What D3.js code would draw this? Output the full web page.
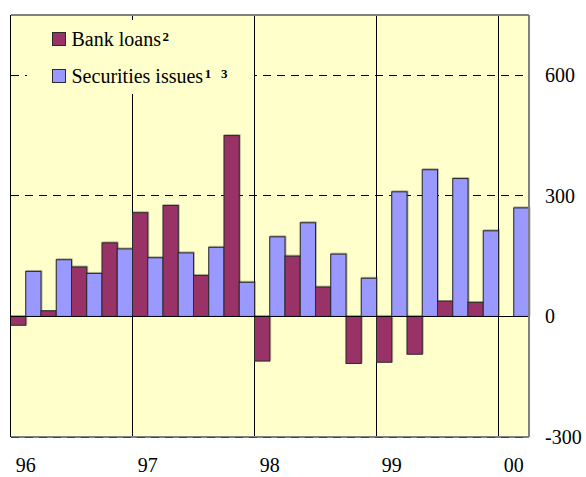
<!DOCTYPE html>
<html>
<head>
<meta charset="utf-8">
<script src="https://cdn.jsdelivr.net/npm/d3@7"></script>
<style>
  html, body { margin: 0; padding: 0; background: #ffffff; }
  svg { display: block; }
</style>
</head>
<body>
<div id="chart"></div>
<script>
// Quarterly net financing, 1996 Q1 – 2000 Q1
const quarters = [
  "96Q1", "96Q2", "96Q3", "96Q4",
  "97Q1", "97Q2", "97Q3", "97Q4",
  "98Q1", "98Q2", "98Q3", "98Q4",
  "99Q1", "99Q2", "99Q3", "99Q4",
  "00Q1"
];
const bankLoans = [-22, 14, 123, 183, 258, 276, 102, 450, -111, 150, 73, -117, -114, -94, 38, 35, null];
const securitiesIssues = [112, 141, 107, 168, 146, 158, 172, 85, 198, 233, 155, 95, 310, 365, 343, 213, 270];

const yearLabels = ["96", "97", "98", "99", "00"];
const yearStarts = ["96Q1", "97Q1", "98Q1", "99Q1", "00Q1"];
const yTicks = [-300, 0, 300, 600];
const gridTicks = [300, 600];

const seriesNames = ["Bank loans", "Securities issues"];
const seriesNotes = ["2", "1 3"];
const seriesColors = ["#993366", "#9999FF"];

const FONT = "'Liberation Serif', 'Times New Roman', Times, serif";
const W = 586, H = 477;
const plot = { left: 10.5, right: 529, top: 15, bottom: 437 };

const svg = d3.select("#chart").append("svg")
  .attr("width", W).attr("height", H)
  .style("font-family", FONT);

// soft dark halo around the bars
const defs = svg.append("defs");
defs.append("filter").attr("id", "barHalo")
  .attr("x", "-20%").attr("y", "-5%").attr("width", "140%").attr("height", "110%")
  .append("feDropShadow")
  .attr("dx", 0.6).attr("dy", -0.6).attr("stdDeviation", 0.7)
  .attr("flood-color", "#000").attr("flood-opacity", 0.45);

const x = d3.scaleBand().domain(quarters).range([plot.left, plot.right]).padding(0);
const xSub = d3.scaleBand().domain(seriesNames).range([0, x.bandwidth()]).padding(0);
const y = d3.scaleLinear().domain([-300, 750]).range([plot.bottom, plot.top]);

// plot background
svg.append("rect")
  .attr("x", plot.left).attr("y", plot.top)
  .attr("width", plot.right - plot.left).attr("height", plot.bottom - plot.top)
  .attr("fill", "#FFFFCC");

// dashed horizontal grid
svg.append("g").attr("shape-rendering", "crispEdges")
  .selectAll("line").data(gridTicks).join("line")
  .attr("x1", plot.left).attr("x2", plot.right)
  .attr("y1", d => y(d)).attr("y2", d => y(d))
  .attr("stroke", "#000").attr("stroke-width", 1)
  .attr("stroke-dasharray", "8,6");

// year separators
svg.append("g").attr("shape-rendering", "crispEdges")
  .selectAll("line").data(yearStarts.slice(1)).join("line")
  .attr("x1", d => x(d)).attr("x2", d => x(d))
  .attr("y1", plot.top).attr("y2", plot.bottom)
  .attr("stroke", "#000").attr("stroke-width", 1);

// legend backdrop hides the grid behind the key
svg.append("rect")
  .attr("x", 27).attr("y", 20).attr("width", 227).attr("height", 74)
  .attr("fill", "#FFFFCC");

// bars
const rows = quarters.map((q, i) => ({ q, values: [bankLoans[i], securitiesIssues[i]] }));
const groups = svg.append("g").selectAll("g").data(rows).join("g")
  .attr("transform", d => `translate(${x(d.q)},0)`);

groups.selectAll("rect")
  .data(d => d.values.map((v, k) => ({ name: seriesNames[k], v, k })).filter(e => e.v !== null))
  .join("rect")
  .attr("x", d => xSub(d.name))
  .attr("width", xSub.bandwidth())
  .attr("y", d => y(Math.max(0, d.v)))
  .attr("height", d => Math.abs(y(d.v) - y(0)))
  .attr("fill", d => seriesColors[d.k])
  .attr("stroke", "#2a2a2a")
  .attr("stroke-width", 1)
  .attr("filter", "url(#barHalo)");

// zero line and frame
const frame = svg.append("g").attr("shape-rendering", "crispEdges");
frame.append("line")
  .attr("x1", plot.left).attr("x2", plot.right)
  .attr("y1", y(0)).attr("y2", y(0))
  .attr("stroke", "#000").attr("stroke-width", 1.2);
frame.append("line")
  .attr("x1", plot.left).attr("x2", plot.right)
  .attr("y1", plot.top).attr("y2", plot.top)
  .attr("stroke", "#808080").attr("stroke-width", 1.5);
frame.append("line")
  .attr("x1", plot.right).attr("x2", plot.right)
  .attr("y1", plot.top).attr("y2", plot.bottom)
  .attr("stroke", "#808080").attr("stroke-width", 1.5);
frame.append("line")
  .attr("x1", plot.left).attr("x2", plot.right)
  .attr("y1", plot.bottom).attr("y2", plot.bottom)
  .attr("stroke", "#808080").attr("stroke-width", 1.5);
frame.append("line")
  .attr("x1", plot.left).attr("x2", plot.right)
  .attr("y1", plot.bottom).attr("y2", plot.bottom)
  .attr("stroke", "#444").attr("stroke-width", 1)
  .attr("stroke-dasharray", "8,6");
frame.append("line")
  .attr("x1", plot.left).attr("x2", plot.left)
  .attr("y1", plot.top).attr("y2", plot.bottom)
  .attr("stroke", "#000").attr("stroke-width", 1.2);

// right value axis (plain hyphen for negatives)
const yAxis = d3.axisRight(y).tickValues(yTicks).tickSize(0).tickPadding(16)
  .tickFormat(d => String(d));
const ya = svg.append("g").attr("transform", `translate(${plot.right},0)`).call(yAxis);
ya.select(".domain").remove();
ya.attr("font-family", null).attr("font-size", null);
ya.selectAll("text")
  .style("font-family", FONT)
  .style("font-size", "20px").attr("fill", "#000");

// year labels, centred on the first quarter of each year
svg.append("g").selectAll("text").data(yearLabels).join("text")
  .attr("x", (d, i) => x(yearStarts[i]) + x.bandwidth() / 2)
  .attr("y", 472)
  .attr("text-anchor", "middle")
  .style("font-family", FONT)
  .style("font-size", "20px").attr("fill", "#000")
  .text(d => d);

// legend with footnote markers
const legend = svg.append("g").selectAll("g").data(seriesNames).join("g")
  .attr("transform", (d, i) => `translate(52.5,${32.5 + i * 37})`);
legend.append("rect")
  .attr("width", 13).attr("height", 13)
  .attr("fill", (d, i) => seriesColors[i])
  .attr("stroke", "#2a2a2a").attr("stroke-width", 1);
const lt = legend.append("text")
  .attr("x", 19).attr("y", 13.3)
  .style("font-family", FONT)
  .style("font-size", "20px").attr("fill", "#000");
lt.append("tspan").text(d => d);
lt.append("tspan")
  .attr("dx", 1.5).attr("dy", -5)
  .style("font-size", "13px").style("font-weight", "bold")
  .style("white-space", "pre")
  .text((d, i) => seriesNotes[i].replace(" ", "\u00A0\u00A0\u00A0"));
</script>
</body>
</html>
